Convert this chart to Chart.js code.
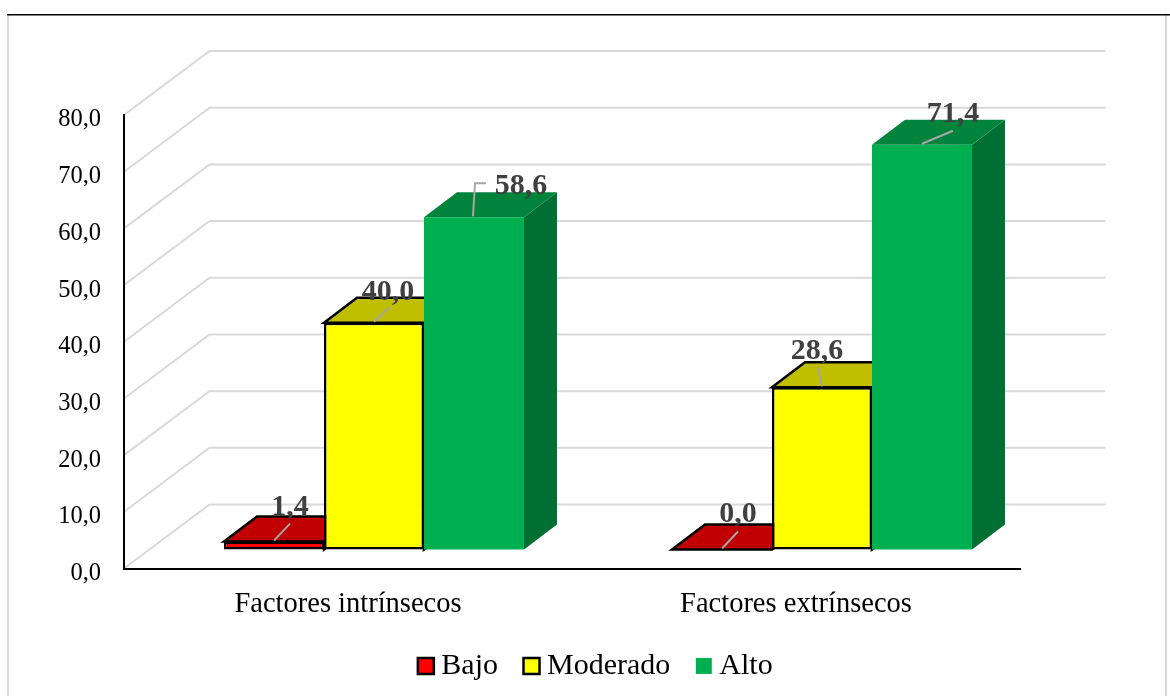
<!DOCTYPE html>
<html>
<head>
<meta charset="utf-8">
<title>Factores</title>
<style>
    body { margin: 0; background: #fff; }
    canvas { display: block; }
</style>
</head>
<body>
<canvas id="chart" width="1170" height="696"></canvas>
<script src="https://cdn.jsdelivr.net/npm/chart.js@4/dist/chart.umd.min.js"></script>
<script>
// Values
const categories = ["Factores intrínsecos", "Factores extrínsecos"];
const seriesNames = ["Bajo", "Moderado", "Alto"];
const bajo = [1.4, 0.0];
const moderado = [40.0, 28.6];
const alto = [58.6, 71.4];
const yTicks = [0, 10, 20, 30, 40, 50, 60, 70, 80];

// Colours: front, top and side of each column
const frontColors = ["#FF0000", "#FFFF00", "#00B050"];
const topColors = ["#C00000", "#BFBF00", "#00843C"];
const sideColors = ["#C00000", "#BFBF00", "#007032"];
const outlines = ["#000000", "#000000", null];

const serif = "'Liberation Serif'";

// Depth of the walls and the columns
const wallDepth = { x: 85.5, y: -64 };
const barShift = { x: 26, y: -19 };
const barDepth = { x: 33, y: -25 };

// Value labels and their leader lines, relative to the top of each column
const labelOffsets = [
    [[16, -36], [16, -37]],
    [[14, -33], [-5, -38]],
    [[47, -33], [31, -33]]
];
const leaders = [
    [[[0, -1], [16, -18]], [[0, -1], [16, -18]]],
    [[[0, -1], [15, -15]], [[0, -1], [-4, -20]]],
    [[[-1, -1], [1, -34], [12, -34]], [[0, -1], [31, -14]]]
];

function comma(value) {
    return value.toFixed(1).replace(".", ",");
}

function polygon(ctx, points, fill, stroke) {
    ctx.beginPath();
    points.forEach((p, i) => i ? ctx.lineTo(p[0], p[1]) : ctx.moveTo(p[0], p[1]));
    ctx.closePath();
    ctx.fillStyle = fill;
    ctx.fill();
    if (stroke) {
        ctx.strokeStyle = stroke;
        ctx.lineWidth = 2.5;
        ctx.lineJoin = "miter";
        ctx.stroke();
    }
}

const frame = {
    id: "frame",
    beforeDraw(chart) {
        const ctx = chart.ctx;
        ctx.save();
        ctx.fillStyle = "#D9D9D9";
        ctx.fillRect(7, 15, 2, 681);
        ctx.fillRect(1165, 15, 2, 681);
        ctx.fillStyle = "#000000";
        ctx.fillRect(7, 14, 1163, 1.5);
        ctx.restore();
    }
};

// Side wall and back wall lines for every tick
const walls = {
    id: "walls",
    beforeDraw(chart) {
        const ctx = chart.ctx;
        const area = chart.chartArea;
        ctx.save();
        ctx.strokeStyle = "#D9D9D9";
        ctx.lineWidth = 2;
        chart.scales.y.ticks.forEach(tick => {
            const y = chart.scales.y.getPixelForValue(tick.value);
            ctx.beginPath();
            ctx.moveTo(area.left, y);
            ctx.lineTo(area.left + wallDepth.x, y + wallDepth.y);
            ctx.lineTo(area.right + wallDepth.x, y + wallDepth.y);
            ctx.stroke();
        });
        ctx.restore();
    }
};

function drawFaces(ctx, meta, i) {
    meta.data.forEach(bar => {
        const { x, y, base, width } = bar.getProps(["x", "y", "base", "width"], true);
        const l = x - width / 2;
        const r = x + width / 2;
        polygon(ctx, [[r, y], [r + barDepth.x, y + barDepth.y], [r + barDepth.x, base + barDepth.y], [r, base]], sideColors[i], outlines[i]);
        polygon(ctx, [[l, y], [r, y], [r + barDepth.x, y + barDepth.y], [l + barDepth.x, y + barDepth.y]], topColors[i], outlines[i]);
    });
}

function drawLabels(chart) {
    const ctx = chart.ctx;
    ctx.save();
    chart.data.datasets.forEach((ds, i) => {
        chart.getDatasetMeta(i).data.forEach((bar, j) => {
            const tx = bar.x + barShift.x;
            const ty = bar.y + barShift.y;
            ctx.strokeStyle = "#A6A6A6";
            ctx.lineWidth = 2;
            ctx.beginPath();
            leaders[i][j].forEach((p, k) => k ? ctx.lineTo(tx + p[0], ty + p[1]) : ctx.moveTo(tx + p[0], ty + p[1]));
            ctx.stroke();
            ctx.fillStyle = "#404040";
            ctx.font = "bold 30px " + serif;
            ctx.textAlign = "center";
            ctx.textBaseline = "middle";
            ctx.fillText(comma(ds.data[j]), tx + labelOffsets[i][j][0], ty + labelOffsets[i][j][1] + 2);
        });
    });
    ctx.restore();
}

// Chart.js paints the first dataset last, here the columns have to go left to right
// so each one covers the top and side of its left neighbour
const columns = {
    id: "columns",
    beforeDatasetsDraw(chart) {
        const ctx = chart.ctx;
        ctx.save();
        ctx.translate(barShift.x, barShift.y);
        chart.data.datasets.forEach((ds, i) => {
            const meta = chart.getDatasetMeta(i);
            drawFaces(ctx, meta, i);
            meta.controller.draw();
        });
        ctx.restore();
        drawLabels(chart);
        return false;
    }
};

// The legend sits under the axis, a little right of the page centre
const legendPlace = {
    id: "legendPlace",
    afterLayout(chart) {
        chart.legend.left = 14;
        chart.legend.right = 1184;
        chart.legend.top = 618;
    }
};

const seriesValues = [bajo, moderado, alto];

new Chart(document.getElementById("chart"), {
    type: "bar",
    data: {
        labels: categories,
        datasets: seriesNames.map((name, i) => ({
            label: name,
            data: seriesValues[i],
            backgroundColor: frontColors[i],
            borderColor: outlines[i] || frontColors[i],
            borderWidth: outlines[i] ? 2.5 : 0,
            borderSkipped: false,
            barPercentage: 1,
            categoryPercentage: 0.6696
        }))
    },
    options: {
        responsive: false,
        animation: false,
        layout: { padding: { top: 115, right: 150, left: 0, bottom: 0 } },
        plugins: {
            tooltip: { enabled: false },
            legend: {
                position: "bottom",
                labels: {
                    color: "#000",
                    font: { family: serif, size: 30 },
                    usePointStyle: true,
                    pointStyle: "rect",
                    boxWidth: 1,
                    boxHeight: 16,
                    padding: 33
                }
            }
        },
        scales: {
            x: {
                grid: { display: false },
                border: { color: "#000", width: 2 },
                ticks: { color: "#000", font: { family: serif, size: 28.5 }, padding: 11, maxRotation: 0 },
                afterFit(scale) { scale.height = 127.5 - scale.chart.legend.height; }
            },
            y: {
                min: 0,
                max: 80,
                grid: { display: false, drawTicks: false },
                border: { color: "#000", width: 2 },
                afterBuildTicks(scale) { scale.ticks = yTicks.map(v => ({ value: v })); },
                ticks: {
                    color: "#000",
                    font: { family: serif, size: 24.5 },
                    padding: 23,
                    labelOffset: 5,
                    callback: v => comma(v)
                },
                afterFit(scale) { scale.width = 124; }
            }
        }
    },
    plugins: [frame, walls, columns, legendPlace]
});
</script>
</body>
</html>
